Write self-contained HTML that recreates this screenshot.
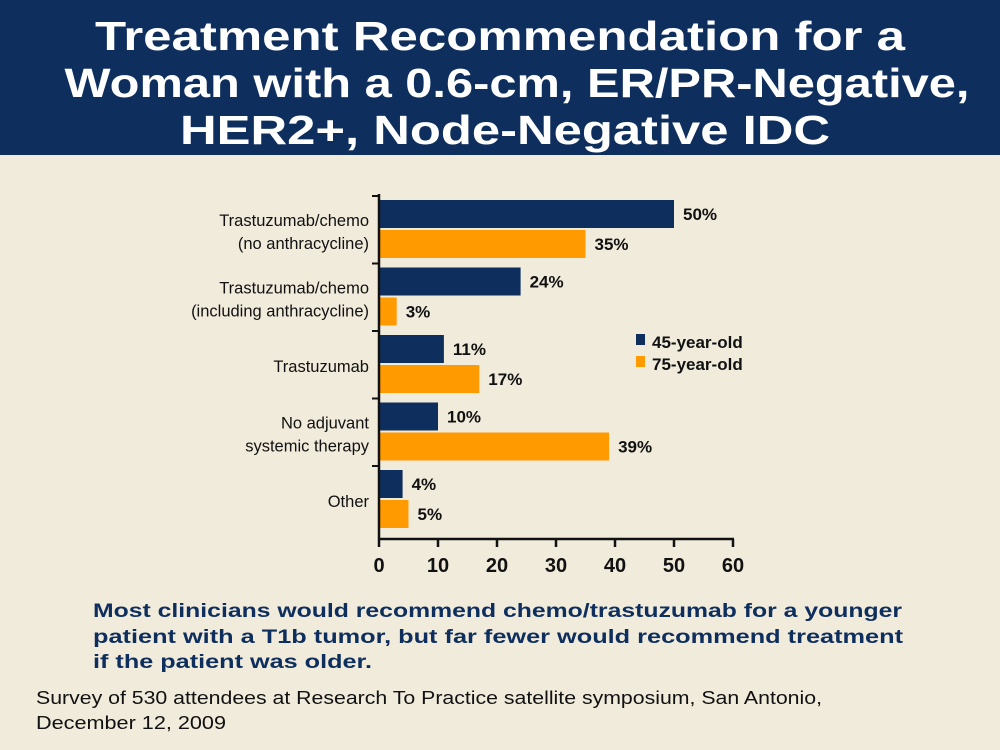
<!DOCTYPE html>
<html><head><meta charset="utf-8"><style>
html,body{margin:0;padding:0;background:#f1ebdc;}
svg{display:block;font-family:"Liberation Sans",sans-serif;}
</style></head><body>
<svg id="chart" width="1000" height="750" viewBox="0 0 1000 750">
<rect x="0" y="0" width="1000" height="750" fill="#f1ebdc"/>
<rect x="0" y="0" width="1000" height="155" fill="#0e2f5e"/>
<g fill="#fff" font-weight="bold" font-size="41" text-anchor="middle">
<text x="500" y="50" textLength="810" lengthAdjust="spacingAndGlyphs">Treatment Recommendation for a</text>
<text x="517" y="97" textLength="905" lengthAdjust="spacingAndGlyphs">Woman with a 0.6-cm, ER/PR-Negative,</text>
<text x="505" y="144" textLength="650" lengthAdjust="spacingAndGlyphs">HER2+, Node-Negative IDC</text>
</g>
<g id="plot"></g>
<g font-weight="bold" font-size="17" fill="#111">
<rect x="636" y="334" width="9" height="11" fill="#0e2f5e"/>
<text x="652" y="348">45-year-old</text>
<rect x="636" y="356" width="9" height="11" fill="#ff9a00"/>
<text x="652" y="370">75-year-old</text>
</g>
<g fill="#0e2f5e" font-weight="bold" font-size="19">
<text x="93" y="617" textLength="809" lengthAdjust="spacingAndGlyphs">Most clinicians would recommend chemo/trastuzumab for a younger</text>
<text x="93" y="643" textLength="810" lengthAdjust="spacingAndGlyphs">patient with a T1b tumor, but far fewer would recommend treatment</text>
<text x="93" y="668" textLength="279" lengthAdjust="spacingAndGlyphs">if the patient was older.</text>
</g>
<g fill="#111" font-size="18">
<text x="36" y="704" textLength="786" lengthAdjust="spacingAndGlyphs">Survey of 530 attendees at Research To Practice satellite symposium, San Antonio,</text>
<text x="36" y="729" textLength="190" lengthAdjust="spacingAndGlyphs">December 12, 2009</text>
</g>
</svg>
<script>
const categories = [["Trastuzumab/chemo","(no anthracycline)"],["Trastuzumab/chemo","(including anthracycline)"],["Trastuzumab"],["No adjuvant","systemic therapy"],["Other"]];
const series45 = [50, 24, 11, 10, 4];
const series75 = [35, 3, 17, 39, 5];
const xTicks = [0, 10, 20, 30, 40, 50, 60];
const NS = "http://www.w3.org/2000/svg";
const g = document.getElementById("plot");
const x0 = 379, xMax = 733, top0 = 198, band = 67.5, axisY = 539;
const xs = v => x0 + (v / 60) * (xMax - x0);
function el(tag, attrs, txt){const e=document.createElementNS(NS,tag);for(const k in attrs)e.setAttribute(k,attrs[k]);if(txt!==undefined)e.textContent=txt;g.appendChild(e);return e;}
categories.forEach((lines,i)=>{
  const bt = top0 + i*band;
  const b1 = el("rect",{x:x0,y:bt+2,width:xs(series45[i])-x0,height:28,fill:"#0e2f5e"});
  
  
  const b2 = el("rect",{x:x0,y:bt+32,width:xs(series75[i])-x0,height:28,fill:"#ff9a00"});
  
  
  const v1 = el("text",{x:xs(series45[i])+9,y:bt+22,"font-size":17,"font-weight":"bold",fill:"#111"},series45[i]+"%");
  
  
  const v2 = el("text",{x:xs(series75[i])+9,y:bt+52,"font-size":17,"font-weight":"bold",fill:"#111"},series75[i]+"%");
  
  
  const cy = bt + 33;
  const off = lines.length===1 ? 6 : -5;
  lines.forEach((ln,j)=>{
    const t = el("text",{x:369,y:cy+off+j*23,"font-size":16.5,fill:"#111","text-anchor":"end"},ln);
    
    
  });
  const tk = el("line",{x1:x0-7,x2:x0,y1:bt-2,y2:bt-2,stroke:"#111","stroke-width":2});
  
  
});
const ya = el("line",{x1:x0,x2:x0,y1:top0-4,y2:axisY,stroke:"#111","stroke-width":2.5});


const xa = el("line",{x1:x0-1,x2:xMax+1,y1:axisY,y2:axisY,stroke:"#111","stroke-width":2.5});


xTicks.forEach(v=>{
  const t = el("line",{x1:xs(v),x2:xs(v),y1:axisY,y2:axisY+8,stroke:"#111","stroke-width":2.5});
  
  
  const l = el("text",{x:xs(v),y:axisY+33,"font-size":20,"font-weight":"bold",fill:"#111","text-anchor":"middle"},String(v));
  
  
});
</script>
</body></html>
